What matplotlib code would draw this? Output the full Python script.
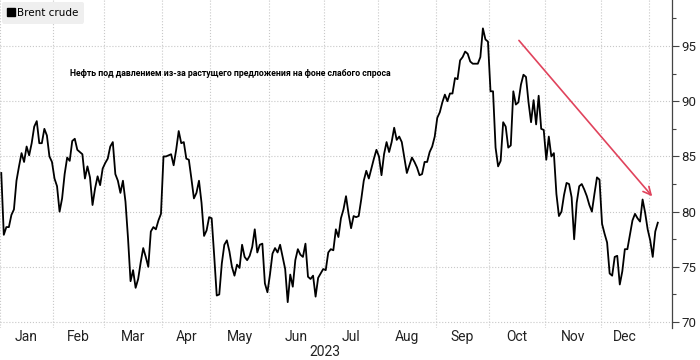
import numpy as np
import matplotlib
matplotlib.use("Agg")
import matplotlib.pyplot as plt
from matplotlib.lines import Line2D
from matplotlib.ticker import MultipleLocator
import matplotlib.transforms as mtransforms

# Brent crude daily closes, one list per month (trading days)
jan = [83.5, 77.9, 78.6, 78.6, 79.7, 80.2, 82.8, 84.1, 85.3, 84.5, 85.9, 85.1, 86.2, 87.7, 88.2, 86.2, 86.2, 87.5, 86.9, 85.0, 84.5]
feb = [83.0, 82.3, 80.0, 81.2, 83.4, 84.9, 84.6, 86.4, 86.6, 85.6, 85.4, 85.2, 83.0, 84.1, 83.1, 80.6, 82.1, 83.2, 82.4, 83.9]
mar = [84.4, 84.8, 85.9, 86.3, 83.4, 82.8, 81.7, 82.8, 80.9, 77.6, 73.7, 74.7, 73.1, 73.9, 75.4, 76.7, 75.9, 75.0, 78.2, 78.6, 78.4, 79.2, 79.8]
apr = [85.0, 85.0, 85.1, 85.2, 84.2, 85.6, 87.3, 86.2, 86.3, 84.8, 84.7, 83.0, 81.2, 81.7, 82.8, 80.8, 77.8, 78.3, 79.5]
may = [79.4, 76.0, 72.4, 72.5, 75.3, 77.0, 77.4, 76.4, 75.0, 74.2, 75.2, 74.9, 77.0, 75.9, 75.6, 76.0, 76.8, 78.4, 76.3, 77.0, 77.1, 73.5, 72.7]
jun = [74.3, 76.2, 76.7, 76.3, 77.0, 75.9, 74.8, 71.8, 74.3, 73.2, 75.6, 76.6, 76.1, 75.9, 77.1, 74.1, 73.9, 74.2, 72.3, 74.0, 74.4, 74.8]
jul = [74.7, 76.3, 76.6, 76.5, 78.4, 77.7, 79.4, 80.2, 81.4, 79.8, 78.5, 79.6, 79.5, 79.6, 81.1, 82.8, 83.7, 83.0, 83.9, 84.8, 85.6]
aug = [85.0, 83.3, 85.2, 86.3, 85.4, 86.3, 87.6, 86.5, 86.8, 86.3, 84.9, 83.5, 84.2, 84.9, 84.5, 84.0, 83.3, 83.4, 84.5, 84.5, 85.4, 85.9, 86.8]
sep = [88.5, 89.0, 89.9, 90.6, 90.0, 90.7, 90.7, 92.1, 92.0, 93.7, 94.0, 94.5, 94.3, 93.6, 93.4, 93.4, 93.4, 94.0, 96.6, 95.6, 95.4]
oct = [90.9, 90.9, 85.8, 84.1, 84.6, 88.1, 87.7, 85.8, 86.0, 90.9, 89.7, 89.9, 91.5, 92.4, 92.2, 89.9, 88.1, 90.1, 87.9, 90.5, 87.5, 87.4]
nov = [84.7, 86.8, 85.0, 85.3, 81.6, 79.6, 80.0, 81.5, 82.6, 82.5, 81.3, 77.5, 80.8, 82.3, 82.5, 82.0, 81.4, 80.6, 80.0, 81.6, 83.1, 82.9]
dec = [78.9, 78.0, 77.2, 74.4, 74.2, 75.9, 76.0, 73.4, 74.6, 76.6, 76.6, 77.9, 79.2, 79.8, 79.4, 79.1, 81.1, 79.9, 78.4]
jan24 = [77.4, 75.9, 78.2, 79.0]

month_labels = ["Jan", "Feb", "Mar", "Apr", "May", "Jun", "Jul", "Aug", "Sep", "Oct", "Nov", "Dec"]
year_label = "2023"
series_name = "Brent crude"
note = "Нефть под давлением из-за растущего предложения на фоне слабого спроса"

# trend arrow (data coords: trading-day index, price)
arrow_start = (203.5, 95.7)
arrow_end = (257.5, 81.2)

months = [jan, feb, mar, apr, may, jun, jul, aug, sep, oct, nov, dec, jan24]
prices = np.concatenate([np.array(m) for m in months])
x = np.arange(len(prices))
counts = np.array([len(m) for m in months])
starts = np.concatenate([[0], np.cumsum(counts)[:-1]])
bounds = starts - 0.5
centers = (bounds[:12] + bounds[1:13]) / 2.0

fig = plt.figure(figsize=(7, 3.6), dpi=100)
ax = fig.add_axes([0, 32 / 360, 672 / 700, 328 / 360])

ax.plot(x, prices, color="black", lw=1.3, zorder=3)

ax.set_xlim(-0.1, 264.6)
ax.set_ylim(69.46, 99.17)

# month boundaries carry the grid, month centres carry the labels
ax.set_xticks(bounds)
ax.set_xticklabels([])
ax.set_xticks(centers, minor=True)
ax.set_xticklabels(month_labels, minor=True, family="Roboto", fontsize=10, color="#222222")
ax.tick_params(axis="x", which="both", length=0, pad=1.5)
ax.grid(axis="x", which="major", color="#c8c8c8", ls=":", lw=0.8)

ax.yaxis.tick_right()
ax.set_yticks([70, 75, 80, 85, 90, 95])
ax.yaxis.set_minor_locator(MultipleLocator(2.5))
ax.tick_params(axis="y", which="major", length=5, width=0.8, color="#444444",
               labelsize=9.5, labelcolor="#222222", pad=2)
ax.tick_params(axis="y", which="minor", length=3, width=0.8, color="#444444")
for lab in ax.get_yticklabels():
    lab.set_family("Roboto")
ax.grid(axis="y", which="major", color="#c8c8c8", ls=":", lw=0.8)

for s in ["top", "left", "bottom"]:
    ax.spines[s].set_visible(False)
ax.spines["right"].set_color("#444444")
ax.spines["right"].set_linewidth(0.9)

trans = mtransforms.blended_transform_factory(ax.transData, ax.transAxes)
ax.text((bounds[0] + bounds[12]) / 2.0, -0.052, year_label, transform=trans,
        ha="center", va="top", fontsize=10, color="#222222", family="Roboto")

ax.annotate("", xy=arrow_end, xytext=arrow_start,
            arrowprops=dict(arrowstyle="->", color="#e0435c", lw=1.2, mutation_scale=14),
            zorder=4)

ax.text(0.104, 0.777, note, transform=ax.transAxes, ha="left", va="center",
        fontsize=6.3, fontweight="bold", color="black", family="Roboto")

handle = Line2D([], [], color="black", marker="s", ls="none", markersize=6)
leg = ax.legend([handle], [series_name], loc="upper left", bbox_to_anchor=(0.0, 1.0),
                frameon=True, fontsize=7.5, handlelength=0.6, handletextpad=0.3,
                borderaxespad=0.2, borderpad=0.55, fancybox=True)
leg.get_frame().set_facecolor("#efefef")
leg.get_frame().set_edgecolor("none")
leg.get_frame().set_alpha(1)

fig.savefig("out.png", dpi=100, facecolor="white")
